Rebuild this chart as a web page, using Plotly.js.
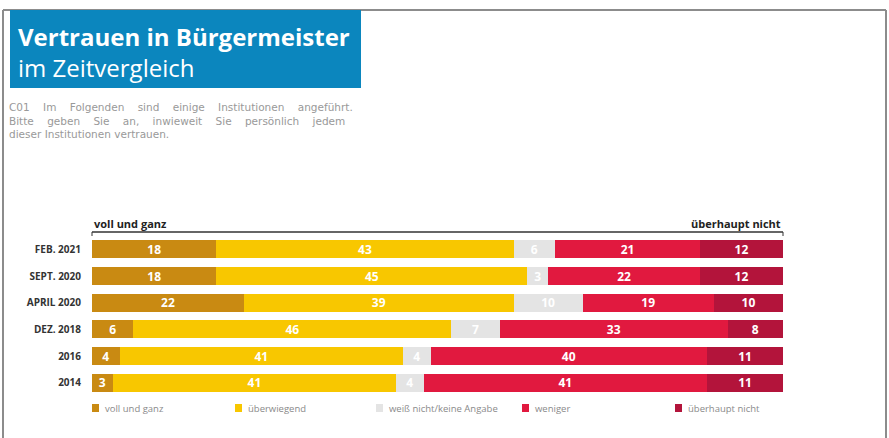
<!DOCTYPE html>
<html>
<head>
<meta charset="utf-8">
<script src="https://cdn.plot.ly/plotly-3.0.1.min.js"></script>
<style>html,body{margin:0;padding:0;background:#fff;}#chart{width:889px;height:438px;}</style>
</head>
<body>
<div id="chart"></div>
<script>
// ---- data ----
const categories = ["FEB. 2021", "SEPT. 2020", "APRIL 2020", "DEZ. 2018", "2016", "2014"];
const seriesNames = ["voll und ganz", "überwiegend", "weiß nicht/keine Angabe", "weniger", "überhaupt nicht"];
const vollUndGanz   = [18, 18, 22, 6, 4, 3];
const ueberwiegend  = [43, 45, 39, 46, 41, 41];
const weissNicht    = [6, 3, 10, 7, 4, 4];
const weniger       = [21, 22, 19, 33, 40, 41];
const ueberhauptNicht = [12, 12, 10, 8, 11, 11];
const seriesValues = [vollUndGanz, ueberwiegend, weissNicht, weniger, ueberhauptNicht];
const seriesColors = ["#c98a12", "#f8c700", "#e4e4e4", "#e1193f", "#b3143b"];
const subtitleLines = [
  ["C01", "Im", "Folgenden", "sind", "einige", "Institutionen", "angeführt."],
  ["Bitte", "geben", "Sie", "an,", "inwieweit", "Sie", "persönlich", "jedem"],
  ["dieser", "Institutionen", "vertrauen."]
];

// ---- layout geometry (pixels) ----
const W = 889, H = 438;
const L = 92, R = 106, T = 236, B = 42;
const pw = W - L - R, ph = H - T - B;
const X = px => (px - L) / pw;
const Y = py => (H - B - py) / ph;
const legendX = [92, 235, 376, 522, 675];
const legendY = 408;

const traces = seriesValues.map((vals, i) => ({
  type: "bar",
  orientation: "h",
  name: seriesNames[i],
  y: categories,
  x: vals,
  marker: {color: seriesColors[i], line: {width: 0}},
  text: vals.map(v => String(v)),
  textposition: "inside",
  insidetextanchor: "middle",
  textangle: 0,
  constraintext: "none",
  textfont: {color: "#ffffff", size: 12, family: "Open Sans", weight: 700},
  hoverinfo: "name+x",
  showlegend: false
}));

const font = "Open Sans, Noto Sans, sans-serif";
const gap = "&nbsp;&nbsp;&nbsp;&nbsp;";
const subtitleText = subtitleLines.map((ws, i) => ws.join(i < 2 ? gap : " ")).join("<br>");

const shapes = [
  // frame
  {type: "line", xref: "paper", yref: "paper", x0: X(3), x1: X(886), y0: Y(10), y1: Y(10), line: {color: "#8c8c8c", width: 2}},
  {type: "line", xref: "paper", yref: "paper", x0: X(3), x1: X(3), y0: Y(10), y1: Y(440), line: {color: "#8c8c8c", width: 2}},
  {type: "line", xref: "paper", yref: "paper", x0: X(886), x1: X(886), y0: Y(10), y1: Y(440), line: {color: "#8c8c8c", width: 2}},
  // title box
  {type: "rect", xref: "paper", yref: "paper", x0: X(10), x1: X(361), y0: Y(10), y1: Y(88), fillcolor: "#0b86be", line: {width: 0}},
  // scale line
  {type: "line", xref: "paper", yref: "paper", x0: 0, x1: 1, y0: Y(232), y1: Y(232), line: {color: "#333333", width: 1.5}},
  {type: "line", xref: "paper", yref: "paper", x0: 0, x1: 0, y0: Y(232), y1: Y(236), line: {color: "#333333", width: 1}},
  {type: "line", xref: "paper", yref: "paper", x0: 1, x1: 1, y0: Y(232), y1: Y(236), line: {color: "#333333", width: 1}}
];
const annotations = [
  {xref: "paper", yref: "paper", x: X(17), y: Y(36), xanchor: "left", yanchor: "middle", showarrow: false, borderpad: 0,
   text: "<b>Vertrauen in Bürgermeister</b>", font: {size: 24, color: "#ffffff", family: font}},
  {xref: "paper", yref: "paper", x: X(17), y: Y(67), xanchor: "left", yanchor: "middle", showarrow: false, borderpad: 0,
   text: "im Zeitvergleich", font: {size: 24, color: "#ffffff", family: font}},
  {xref: "paper", yref: "paper", x: X(8), y: Y(100), xanchor: "left", yanchor: "top", showarrow: false, align: "left", borderpad: 0,
   text: subtitleText,
   font: {size: 10.5, color: "#999999", family: "DejaVu Sans, sans-serif"}},
  {xref: "paper", yref: "paper", x: 0, y: Y(223), xanchor: "left", yanchor: "middle", showarrow: false,
   text: "<b>voll und ganz</b>", font: {size: 11, color: "#222222", family: font}},
  {xref: "paper", yref: "paper", x: 1, y: Y(223), xanchor: "right", yanchor: "middle", showarrow: false,
   text: "<b>überhaupt nicht</b>", font: {size: 11, color: "#222222", family: font}}
];
// manual legend built from series names and colours
seriesNames.forEach((n, i) => {
  shapes.push({type: "rect", xref: "paper", yref: "paper",
    x0: X(legendX[i]), x1: X(legendX[i] + 7), y0: Y(legendY - 4), y1: Y(legendY + 4),
    fillcolor: seriesColors[i], line: {width: 0}});
  annotations.push({xref: "paper", yref: "paper", x: X(legendX[i] + 11), y: Y(legendY), xanchor: "left", yanchor: "middle",
    showarrow: false, text: n, font: {size: 9.5, color: "#8a8a8a", family: font}});
});

const layout = {
  width: W, height: H,
  margin: {l: L, r: R, t: T, b: B, pad: 0},
  paper_bgcolor: "#ffffff",
  plot_bgcolor: "#ffffff",
  barmode: "stack",
  bargap: 0.33,
  showlegend: false,
  xaxis: {range: [0, 100], visible: false, fixedrange: true},
  yaxis: {
    autorange: "reversed",
    type: "category",
    showgrid: false, zeroline: false, showline: false,
    ticks: "", ticklabelstandoff: 10,
    tickfont: {size: 10, color: "#333333", family: font, weight: 700}
  },
  shapes: shapes,
  annotations: annotations
};

Plotly.newPlot("chart", traces, layout, {displayModeBar: false, staticPlot: true});
</script>
</body>
</html>
